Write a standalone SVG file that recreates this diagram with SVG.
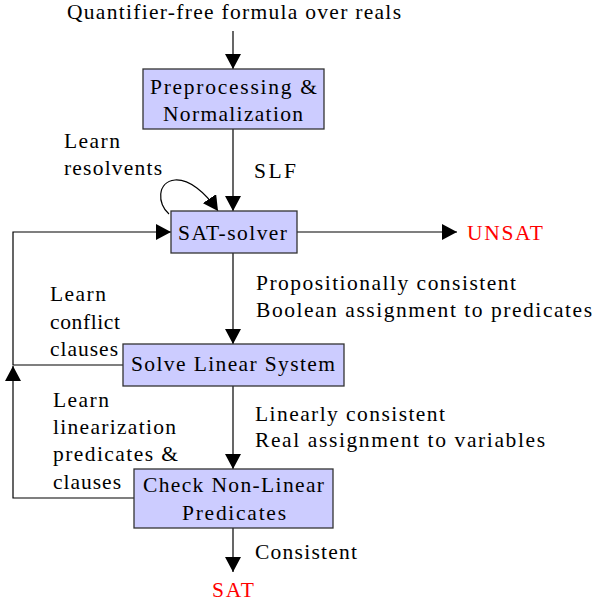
<svg xmlns="http://www.w3.org/2000/svg" width="594" height="604" viewBox="0 0 594 604" font-family="'Liberation Serif', 'DejaVu Serif', serif" font-size="21.5">
<style>
.red{fill:#ff0000}
.box{fill:#ccccff;stroke:#333;stroke-width:1.3}
.c{fill:none;stroke:#000;stroke-width:1.2}
</style>
<defs>
<marker id="ah" viewBox="0 0 15 16" refX="15" refY="8" markerWidth="15" markerHeight="16" markerUnits="userSpaceOnUse" orient="auto">
<path d="M0,0 L15,8 L0,16 z" fill="#000"/>
</marker>
</defs>
<g id="connectors">
<path class="c" d="M233,31 V69" marker-end="url(#ah)"/>
<path class="c" d="M233,129 V211" marker-end="url(#ah)"/>
<path class="c" d="M297,232 H457" marker-end="url(#ah)"/>
<path class="c" d="M233,253 V344" marker-end="url(#ah)"/>
<path class="c" d="M233,386 V469" marker-end="url(#ah)"/>
<path class="c" d="M233,528 V572" marker-end="url(#ah)"/>
<path class="c" d="M123,365 H13 V232 H171" marker-end="url(#ah)"/>
<path class="c" d="M134,498 H13 V366" marker-end="url(#ah)"/>
<path class="c" d="M169,214 C157,204 157,182 175,180 C189,179 205,192 218,211" marker-end="url(#ah)"/>
</g>
<g id="input"><text x="67" y="19" textLength="334" lengthAdjust="spacing">Quantifier-free formula over reals</text></g>
<g id="preprocessing">
<rect class="box" x="143" y="69" width="181" height="60"/>
<text x="150" y="94" textLength="167" lengthAdjust="spacing">Preprocessing &amp;</text>
<text x="163" y="121" textLength="140" lengthAdjust="spacing">Normalization</text>
</g>
<g id="sat-solver">
<rect class="box" x="171" y="211" width="126" height="42"/>
<text x="178" y="240" textLength="109" lengthAdjust="spacing">SAT-solver</text>
</g>
<g id="solve-linear">
<rect class="box" x="123" y="344" width="221" height="42"/>
<text x="131" y="371" textLength="204" lengthAdjust="spacing">Solve Linear System</text>
</g>
<g id="check-nonlinear">
<rect class="box" x="134" y="469" width="199" height="59"/>
<text x="143" y="492" textLength="181" lengthAdjust="spacing">Check Non-Linear</text>
<text x="182" y="520" textLength="104" lengthAdjust="spacing">Predicates</text>
</g>
<g id="unsat"><text class="red" x="467" y="240" textLength="76" lengthAdjust="spacing">UNSAT</text></g>
<g id="sat"><text class="red" x="212" y="597" textLength="42" lengthAdjust="spacing">SAT</text></g>
<g id="labels">
<text x="64" y="148" textLength="56" lengthAdjust="spacing">Learn</text>
<text x="64" y="175" textLength="98" lengthAdjust="spacing">resolvents</text>
<text x="254" y="178" textLength="42" lengthAdjust="spacing">SLF</text>
<text x="256" y="290" textLength="260" lengthAdjust="spacing">Propositionally consistent</text>
<text x="256" y="317" textLength="336" lengthAdjust="spacing">Boolean assignment to predicates</text>
<text x="50" y="301" textLength="56" lengthAdjust="spacing">Learn</text>
<text x="50" y="329" textLength="70" lengthAdjust="spacing">conflict</text>
<text x="50" y="356" textLength="68" lengthAdjust="spacing">clauses</text>
<text x="53" y="407" textLength="56" lengthAdjust="spacing">Learn</text>
<text x="53" y="434" textLength="123" lengthAdjust="spacing">linearization</text>
<text x="53" y="461" textLength="125" lengthAdjust="spacing">predicates &amp;</text>
<text x="53" y="489" textLength="68" lengthAdjust="spacing">clauses</text>
<text x="255" y="421" textLength="190" lengthAdjust="spacing">Linearly consistent</text>
<text x="255" y="447" textLength="290" lengthAdjust="spacing">Real assignment to variables</text>
<text x="255" y="559" textLength="102" lengthAdjust="spacing">Consistent</text>
</g>
</svg>
